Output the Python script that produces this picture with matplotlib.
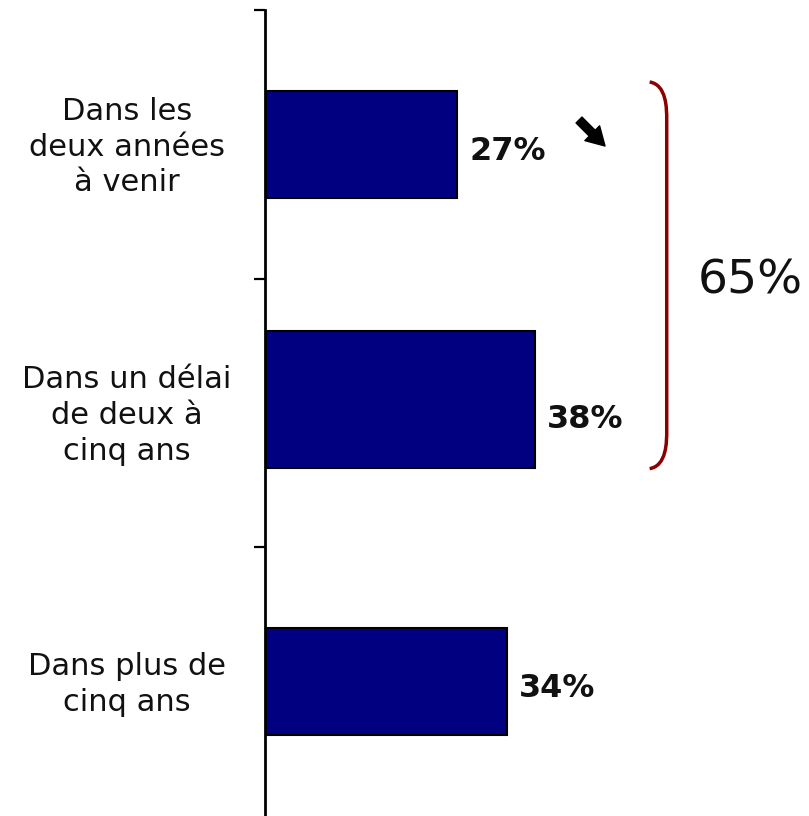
import matplotlib
matplotlib.use("Agg")
import matplotlib.pyplot as plt
from matplotlib.path import Path
from matplotlib.patches import PathPatch

#------------------------------
#values
categories = ["Dans les\ndeux années\nà venir",
              "Dans un délai\nde deux à\ncinq ans",
              "Dans plus de\ncinq ans"]
values = [27, 38, 34]
value_labels = ["27%", "38%", "34%"]
total_label = "65%"

#------------------------------
#layout (bar look in the original is not uniform)
bar_heights = [0.40, 0.51, 0.40]
bar_shift = [0.0, -0.05, 0.0]
bar_color = "#000080"
brace_color = "#8B0000"

plt.rcParams['font.family'] = ['DejaVu Sans']

fig = plt.figure(figsize=(8.09, 8.16), dpi=100)
ax = fig.add_axes([265 / 809, 0, 544 / 809, 806 / 816])

pos = list(range(len(values)))
ax.barh([p + s for p, s in zip(pos, bar_shift)], values, height=bar_heights,
        color=bar_color, edgecolor="black", linewidth=1.5)

ax.set_xlim(0, 544 / 7.11)
ax.set_ylim(2.5, -0.5)

#------------------------------
#spines and ticks
for side in ["top", "right", "bottom"]:
    ax.spines[side].set_visible(False)
ax.spines["left"].set_linewidth(2)
ax.set_xticks([])
ax.set_yticks([-0.5, 0.5, 1.5])
ax.set_yticklabels([])
ax.tick_params(axis="y", direction="out", length=8, width=1.6)

#------------------------------
#labels
for p, cat in zip(pos, categories):
    ax.text(-0.2537, p + 0.01, cat, transform=ax.get_yaxis_transform(),
            ha="center", va="center", fontsize=22, linespacing=1.3,
            color="#111111")

for p, v, lab in zip(pos, values, value_labels):
    ax.text(v + 1.7, p + 0.025, lab, ha="left", va="center",
            fontsize=23, fontweight="bold", color="#111111")

#------------------------------
#brace around first two bars
x0, x1 = 54.1, 56.5
ya, yb = -0.232, 1.207
verts = [(x0, ya), (x1, ya + 0.01), (x1, ya + 0.1), (x1, ya + 0.14),
         (x1, yb - 0.14),
         (x1, yb - 0.1), (x1, yb - 0.01), (x0, yb)]
codes = [Path.MOVETO, Path.CURVE4, Path.CURVE4, Path.CURVE4,
         Path.LINETO,
         Path.CURVE4, Path.CURVE4, Path.CURVE4]
ax.add_patch(PathPatch(Path(verts, codes), facecolor="none",
                       edgecolor=brace_color, linewidth=2.5, clip_on=False))
ax.text(68.3, 0.51, total_label, ha="center", va="center", fontsize=34,
        color="#111111")

#trend arrow (heavy down-right arrow)
ax.annotate("", xy=(605, 816 - 146), xytext=(579, 816 - 120),
            xycoords="figure pixels", textcoords="figure pixels",
            arrowprops=dict(arrowstyle="simple,head_length=1.3,head_width=1.5,tail_width=0.6",
                            color="black", shrinkA=0, shrinkB=0))

fig.savefig("out.png", dpi=100)
